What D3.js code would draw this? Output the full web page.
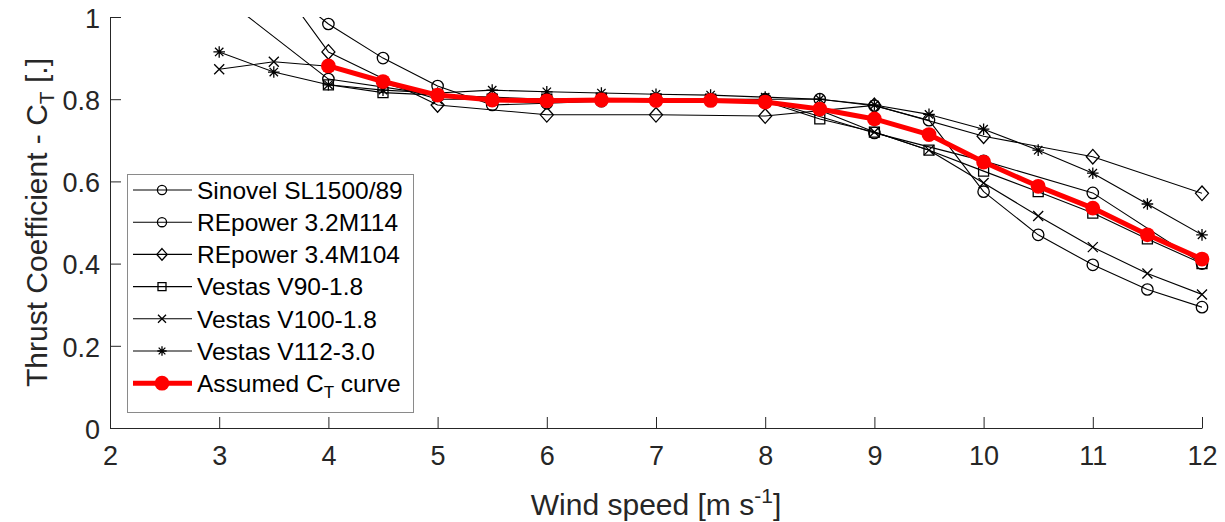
<!DOCTYPE html>
<html>
<head>
<meta charset="utf-8">
<script src="https://cdn.jsdelivr.net/npm/d3@7"></script>
<style>
  html, body { margin: 0; padding: 0; background: #fff; }
  svg { display: block; font-family: "Liberation Sans", Arial, Helvetica, sans-serif; }
</style>
</head>
<body>
<svg id="chart" width="1225" height="522"></svg>
<script>
// ---------------- data ----------------
const xTicks = [2, 3, 4, 5, 6, 7, 8, 9, 10, 11, 12];
const yTicks = [0, 0.2, 0.4, 0.6, 0.8, 1];
const yTickLabels = ["0", "0.2", "0.4", "0.6", "0.8", "1"];

const sinovelX = [3, 4, 5, 6, 7, 8, 9, 10, 11, 12];
const sinovelY = [1.055, 0.849, 0.81, 0.80, 0.80, 0.798, 0.718, 0.65, 0.572, 0.40];

const repower32X = [3.5, 4, 4.5, 5, 5.5, 6, 6.5, 7, 7.5, 8, 8.5, 9, 9.5, 10, 10.5, 11, 11.5, 12];
const repower32Y = [1.09, 0.983, 0.900, 0.832, 0.786, 0.79, 0.795, 0.797, 0.80, 0.80, 0.80, 0.784, 0.749, 0.575, 0.470, 0.397, 0.337, 0.294];

const repower34X = [3, 4, 5, 6, 7, 8, 9, 10, 11, 12];
const repower34Y = [1.28, 0.915, 0.786, 0.762, 0.762, 0.759, 0.785, 0.710, 0.660, 0.571];

const v90X = [4, 4.5, 5, 5.5, 6, 6.5, 7, 7.5, 8, 8.5, 9, 9.5, 10, 10.5, 11, 11.5, 12];
const v90Y = [0.835, 0.816, 0.81, 0.80, 0.80, 0.80, 0.80, 0.80, 0.795, 0.752, 0.72, 0.676, 0.625, 0.575, 0.523, 0.46, 0.40];

const v100X = [3, 3.5, 4, 4.5, 5, 5.5, 6, 6.5, 7, 7.5, 8, 8.5, 9, 9.5, 10, 10.5, 11, 11.5, 12];
const v100Y = [0.873, 0.891, 0.88, 0.84, 0.80, 0.80, 0.80, 0.80, 0.80, 0.80, 0.795, 0.773, 0.72, 0.676, 0.596, 0.516, 0.440, 0.376, 0.325];

const v112X = [3, 3.5, 4, 4.5, 5, 5.5, 6, 6.5, 7, 7.5, 8, 8.5, 9, 9.5, 10, 10.5, 11, 11.5, 12];
const v112Y = [0.915, 0.866, 0.835, 0.822, 0.815, 0.822, 0.818, 0.815, 0.812, 0.81, 0.805, 0.80, 0.786, 0.763, 0.727, 0.676, 0.620, 0.545, 0.470];

const assumedX = [4, 4.5, 5, 5.5, 6, 6.5, 7, 7.5, 8, 8.5, 9, 9.5, 10, 10.5, 11, 11.5, 12];
const assumedY = [0.881, 0.843, 0.81, 0.798, 0.796, 0.798, 0.797, 0.797, 0.793, 0.776, 0.752, 0.714, 0.647, 0.588, 0.535, 0.470, 0.411];

const seriesNames = ["Sinovel SL1500/89", "REpower 3.2M114", "REpower 3.4M104",
                     "Vestas V90-1.8", "Vestas V100-1.8", "Vestas V112-3.0", "Assumed C"];
const seriesMarkers = ["circle", "circle", "diamond", "square", "x", "asterisk", "dot"];

// ---------------- layout ----------------
const svg = d3.select("#chart");
const pLeft = 110, pRight = 1202, pTop = 17, pBottom = 428;
const x = d3.scaleLinear().domain([2, 12]).range([pLeft, pRight]);
const y = d3.scaleLinear().domain([0, 1]).range([pBottom, pTop]);
const axisColor = "#262626";

function zip(xs, ys) { return xs.map((v, i) => ({ x: v, y: ys[i] })); }
const series = [
  zip(sinovelX, sinovelY), zip(repower32X, repower32Y), zip(repower34X, repower34Y),
  zip(v90X, v90Y), zip(v100X, v100Y), zip(v112X, v112Y), zip(assumedX, assumedY)
].map((pts, i) => ({ name: seriesNames[i], marker: seriesMarkers[i], pts }));

// marker shape paths (relative to centre)
function markerPath(type, k) {
  if (type === "diamond") { const w = 6.5 * k, h = 7.3 * k; return `M0,${-h}L${w},0L0,${h}L${-w},0Z`; }
  if (type === "square") { const s = 5 * k; return `M${-s},${-s}H${s}V${s}H${-s}Z`; }
  if (type === "x") { const s = 5 * k; return `M${-s},${-s}L${s},${s}M${-s},${s}L${s},${-s}`; }
  if (type === "asterisk") { const s = 5.8 * k, a = s * 0.72; return `M0,${-s}V${s}M${-s},0H${s}M${-a},${-a}L${a},${a}M${-a},${a}L${a},${-a}`; }
  return null;
}
function drawMarker(g, type, cx, cy, k) {
  if (type === "circle") {
    g.append("circle").attr("cx", cx).attr("cy", cy).attr("r", 5.7 * k)
      .attr("fill", "none").attr("stroke", "#000").attr("stroke-width", 1.3);
  } else if (type === "dot") {
    g.append("circle").attr("cx", cx).attr("cy", cy).attr("r", 7.4 * k).attr("fill", "#ff0000");
  } else {
    g.append("path").attr("transform", `translate(${cx},${cy})`).attr("d", markerPath(type, k))
      .attr("fill", "none").attr("stroke", "#000").attr("stroke-width", 1.3);
  }
}

// clip for lines
svg.append("defs").append("clipPath").attr("id", "plotclip")
  .append("rect").attr("x", pLeft).attr("y", pTop).attr("width", pRight - pLeft).attr("height", pBottom - pTop);

// axes
const yAxis = d3.axisLeft(y).tickValues(yTicks).tickFormat((d, i) => yTickLabels[i])
  .tickSizeInner(-11).tickSizeOuter(0).tickPadding(10);
const xAxis = d3.axisBottom(x).tickValues(xTicks).tickFormat(d3.format("d"))
  .tickSizeInner(-11).tickSizeOuter(0).tickPadding(18);

const gy = svg.append("g").attr("transform", `translate(${pLeft},0)`).call(yAxis);
const gx = svg.append("g").attr("transform", `translate(0,${pBottom})`).call(xAxis);
[gx, gy].forEach(g => {
  g.select(".domain").attr("stroke", axisColor).attr("stroke-width", 1);
  g.selectAll(".tick line").attr("stroke", axisColor).attr("stroke-width", 1);
  g.selectAll(".tick text").attr("fill", axisColor).attr("font-size", 27)
    .attr("font-family", "'Liberation Sans', Arial, sans-serif");
});
gy.selectAll(".tick text").attr("dy", "0.38em");

// axis titles
const xl = svg.append("text").attr("x", (pLeft + pRight) / 2).attr("y", 515)
  .attr("text-anchor", "middle").attr("font-size", 30).attr("fill", axisColor);
xl.append("tspan").text("Wind speed [m s");
xl.append("tspan").attr("dy", -12).attr("font-size", 21).text("-1");
xl.append("tspan").attr("dy", 12).text("]");

const yl = svg.append("text").attr("transform", `translate(47,${(pTop + pBottom) / 2}) rotate(-90)`)
  .attr("text-anchor", "middle").attr("font-size", 30).attr("fill", axisColor);
yl.append("tspan").text("Thrust Coefficient - C");
yl.append("tspan").attr("dy", 7).attr("font-size", 21).text("T");
yl.append("tspan").attr("dy", -7).text(" [.]");

// series
const line = d3.line().x(d => x(d.x)).y(d => y(d.y));
const plot = svg.append("g");
series.forEach(s => {
  const red = s.marker === "dot";
  plot.append("path").datum(s.pts).attr("d", line).attr("clip-path", "url(#plotclip)")
    .attr("fill", "none").attr("stroke", red ? "#ff0000" : "#000")
    .attr("stroke-width", red ? 5 : 1.1).attr("stroke-linejoin", "round");
  const mg = plot.append("g");
  s.pts.filter(d => d.y <= 1 && d.y >= 0).forEach(d => drawMarker(mg, s.marker, x(d.x), y(d.y), 1));
});

// legend
const lg = svg.append("g");
lg.append("rect").attr("x", 127.5).attr("y", 174.5).attr("width", 286).attr("height", 238)
  .attr("fill", "#fff").attr("stroke", "#8a8a8a").attr("stroke-width", 1);
series.forEach((s, i) => {
  const ry = 190 + i * 32.2;
  const red = s.marker === "dot";
  lg.append("line").attr("x1", 133).attr("x2", 192).attr("y1", ry).attr("y2", ry)
    .attr("stroke", red ? "#ff0000" : "#000").attr("stroke-width", red ? 5 : 1.1);
  drawMarker(lg, s.marker, 162, ry, red ? 1.0 : 0.8);
  const t = lg.append("text").attr("x", 197).attr("y", ry).attr("dy", "0.36em")
    .attr("font-size", 24.5).attr("fill", "#000");
  t.append("tspan").text(s.name);
  if (red) {
    t.append("tspan").attr("dy", 6).attr("font-size", 17).text("T");
    t.append("tspan").attr("dy", -6).text(" curve");
  }
});
</script>
</body>
</html>
